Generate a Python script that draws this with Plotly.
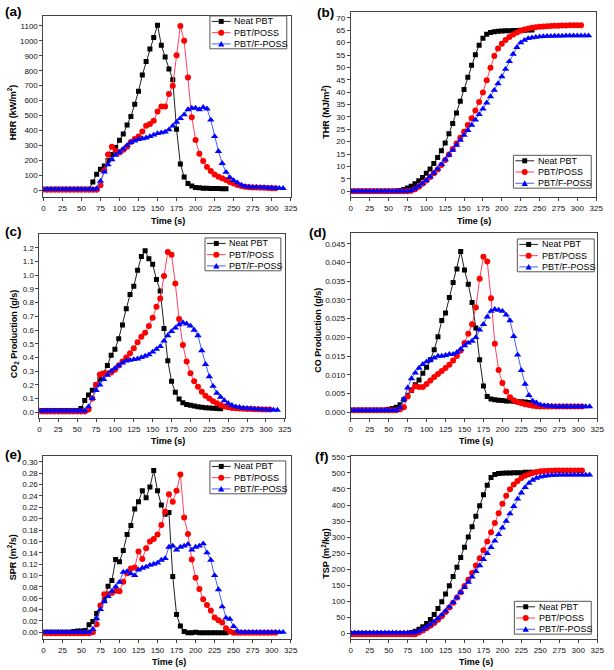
import plotly.graph_objects as go

W, H = 614, 670

# ---------------- data (time in s, sampled every 5 s) ----------------
T_NEAT = list(range(0, 245, 5))    # 0..240
T_POSS = list(range(0, 310, 5))    # 0..305
T_FPOSS = list(range(0, 320, 5))   # 0..315

SERIES_NAMES = ["Neat PBT", "PBT/POSS", "PBT/F-POSS"]

HRR_NEAT = [5, 5, 5, 5, 5, 5, 5, 5, 5, 5, 5, 5, 5,
            55, 106, 139, 161, 199, 239, 285, 334, 376, 436, 493, 575, 662, 772, 861, 945,
            1022, 1104, 971, 892, 812, 739, 407, 175, 88, 44, 27, 18,
            15, 13, 12, 11, 10, 10, 9, 9]
HRR_POSS = [2, 2, 2, 2, 2, 2, 2, 2, 2, 2, 2, 2, 2, 2, 2,
            33, 133, 239, 290, 262, 252, 270, 290, 322, 342, 360, 392, 432, 443, 465, 527,
            560, 560, 644, 700, 903, 1100, 1000, 755, 489, 336, 243, 195, 155, 128, 104,
            90, 80, 68, 55, 45, 35, 28, 22, 20, 18, 17, 16, 15, 14, 13, 12]
HRR_FPOSS = [5, 5, 5, 5, 5, 5, 5, 5, 5, 5, 5, 5, 5, 5,
             10, 60, 122, 170, 205, 235, 255, 275, 300, 320, 330, 340, 345, 350, 360, 370,
             380, 385, 390, 405, 430, 455, 480, 505, 540, 550, 550, 540, 555, 545, 470, 360,
             260, 180, 120, 85, 65, 50, 35, 25, 22, 20, 19, 18, 17, 16, 15, 14, 13, 12]

THR_NEAT = [0, 0, 0, 0, 0, 0, 0, 0, 0, 0, 0, 0, 0,
            0.3, 0.7, 1.3, 2.0, 3.0, 4.2, 5.5, 7.2, 9.0, 11.2, 13.6, 16.3, 19.5, 23.2,
            27.3, 31.6, 36.3, 41.1, 46.0, 50.9, 55.1, 59.0, 61.8, 63.4, 64.1, 64.4, 64.6, 64.7,
            64.8, 64.8, 64.9, 64.9, 65.0, 65.0, 65.1, 65.1]
THR_POSS = [0, 0, 0, 0, 0, 0, 0, 0, 0, 0, 0, 0, 0, 0, 0, 0,
            0.2, 0.8, 1.8, 3.0, 4.3, 5.7, 7.2, 8.8, 10.6, 12.6, 14.8, 17.0, 19.3, 21.6, 24.0,
            26.7, 29.5, 32.6, 36.0, 39.9, 44.8, 49.9, 54.6, 57.6, 59.6, 61.1, 62.3, 63.3, 64.1,
            64.8, 65.3, 65.7, 66.0, 66.2, 66.4, 66.5, 66.6, 66.7, 66.8, 66.8, 66.9, 66.9, 67.0,
            67.0, 67.0, 67.0]
THR_FPOSS = [0, 0, 0, 0, 0, 0, 0, 0, 0, 0, 0, 0, 0, 0, 0, 0,
             0.3, 1.0, 2.0, 3.1, 4.4, 5.8, 7.3, 9.0, 10.8, 12.7, 14.6, 16.6, 18.6, 20.6, 22.6,
             24.6, 26.7, 28.8, 31.0, 33.3, 35.7, 38.2, 40.8, 43.5, 46.3, 49.3, 52.4, 55.4, 58.1,
             60.0, 61.0, 61.7, 62.0, 62.2, 62.4, 62.5, 62.6, 62.6, 62.7, 62.7, 62.7, 62.8, 62.8,
             62.8, 62.8, 62.8, 62.8, 62.8]

CO2_NEAT = [0.01, 0.01, 0.01, 0.01, 0.01, 0.01, 0.01, 0.01, 0.01, 0.01, 0.01,
            0.027, 0.085, 0.126, 0.16, 0.2, 0.24, 0.285, 0.34, 0.416, 0.46,
            0.537, 0.636, 0.755, 0.859, 0.92, 1.036, 1.137, 1.18, 1.12, 1.08,
            0.97, 0.886, 0.612, 0.375, 0.225, 0.145, 0.097, 0.068, 0.056, 0.05,
            0.045, 0.04, 0.035, 0.032, 0.03, 0.028, 0.027, 0.025]
CO2_POSS = [0.005, 0.005, 0.005, 0.005, 0.005, 0.005, 0.005, 0.005, 0.005, 0.005, 0.005, 0.005, 0.005,
            0.02, 0.1, 0.2, 0.275, 0.28, 0.285, 0.29, 0.31, 0.34, 0.37,
            0.4, 0.43, 0.467, 0.51, 0.55, 0.58, 0.63, 0.69, 0.77, 0.83,
            0.994, 1.17, 1.15, 0.94, 0.68, 0.49, 0.37, 0.285, 0.225, 0.185,
            0.15, 0.12, 0.1, 0.08, 0.065, 0.052, 0.042, 0.035, 0.03, 0.028,
            0.026, 0.025, 0.024, 0.023, 0.022, 0.021, 0.02, 0.02, 0.02]
CO2_FPOSS = [0.01, 0.01, 0.01, 0.01, 0.01, 0.01, 0.01, 0.01, 0.01, 0.01, 0.01, 0.01, 0.01,
             0.04, 0.1, 0.16, 0.2, 0.24, 0.27, 0.3, 0.32, 0.34, 0.36,
             0.375, 0.38, 0.385, 0.39, 0.4, 0.41, 0.42, 0.44, 0.46, 0.48,
             0.52, 0.56, 0.59, 0.615, 0.64, 0.655, 0.645, 0.63, 0.6, 0.56,
             0.45, 0.35, 0.26, 0.19, 0.14, 0.11, 0.085, 0.065, 0.05, 0.04,
             0.035, 0.03, 0.028, 0.026, 0.024, 0.022, 0.02, 0.018, 0.017, 0.016, 0.015]

CO_NEAT = [0.0005, 0.0005, 0.0005, 0.0005, 0.0005, 0.0005, 0.0005, 0.0005, 0.0005, 0.0005,
           0.0008, 0.001, 0.0013, 0.002, 0.0033, 0.0045, 0.0058, 0.0073, 0.0086, 0.0104,
           0.012, 0.014, 0.0167, 0.0202, 0.0245, 0.0265, 0.0307, 0.0347, 0.0383, 0.043,
           0.038, 0.0342, 0.0293, 0.0225, 0.014, 0.007, 0.0042, 0.0035, 0.0033, 0.0032,
           0.0031, 0.003, 0.003, 0.0029, 0.0028, 0.0028, 0.0027, 0.0026, 0.0025]
CO_POSS = [0.0005, 0.0005, 0.0005, 0.0005, 0.0005, 0.0005, 0.0005, 0.0005, 0.0005, 0.0005, 0.0005, 0.0005, 0.0005,
           0.0008, 0.0013, 0.0042, 0.0059, 0.0069, 0.0067, 0.0067, 0.0075, 0.0085, 0.0094,
           0.0102, 0.011, 0.0118, 0.0127, 0.0138, 0.015, 0.0165, 0.0185, 0.021, 0.0235,
           0.028, 0.0357, 0.0416, 0.0403, 0.0305, 0.0183, 0.0113, 0.0078, 0.0055, 0.004,
           0.0032, 0.0027, 0.0024, 0.0021, 0.0019, 0.0017, 0.0016, 0.0015,
           0.0015, 0.0015, 0.0015, 0.0015, 0.0015, 0.0015, 0.0015, 0.0015, 0.0015, 0.0015, 0.0015]
CO_FPOSS = [0.0005, 0.0005, 0.0005, 0.0005, 0.0005, 0.0005, 0.0005, 0.0005, 0.0005, 0.0005, 0.0005, 0.0005, 0.0005,
            0.0012, 0.0035, 0.0065, 0.009, 0.0105, 0.0118, 0.0128, 0.0135, 0.014, 0.0145,
            0.015, 0.015, 0.0152, 0.0155, 0.0155, 0.016, 0.0168, 0.0178, 0.0185, 0.019,
            0.02, 0.022, 0.0235, 0.0255, 0.027, 0.0275, 0.0273, 0.027, 0.026, 0.0245,
            0.0203, 0.0153, 0.0112, 0.0075, 0.0045, 0.003, 0.0025, 0.002, 0.0018, 0.0017,
            0.0016, 0.0015, 0.0015, 0.0015, 0.0015, 0.0015, 0.0015, 0.0015, 0.0015, 0.0015, 0.0015]

SPR_NEAT = [0.0, 0.0, 0.0, 0.0, 0.0, 0.0, 0.0, 0.0,
            0.001, 0.002, 0.002, 0.003, 0.013, 0.019, 0.033, 0.047, 0.057, 0.081,
            0.091, 0.128, 0.124, 0.144, 0.172, 0.188, 0.217, 0.23, 0.249, 0.237,
            0.256, 0.285, 0.249, 0.224, 0.208, 0.211, 0.098, 0.031, 0.011, 0.001,
            -0.001, -0.001, 0.0, -0.001, -0.001, -0.001, -0.001, -0.001, -0.001, -0.001, -0.001]
SPR_POSS = [-0.002, -0.002, -0.002, -0.002, -0.002, -0.002, -0.002, -0.002, -0.002, -0.002, -0.002, -0.002, -0.002,
            0.0, 0.014, 0.047, 0.067, 0.067, 0.069, 0.073, 0.072, 0.089, 0.104,
            0.112, 0.114, 0.142, 0.129, 0.148, 0.16, 0.164, 0.172, 0.189, 0.212,
            0.243, 0.23, 0.249, 0.278, 0.202, 0.173, 0.128, 0.096, 0.076, 0.058,
            0.048, 0.038, 0.026, 0.021, 0.017, 0.007, 0.001, -0.001,
            -0.001, -0.001, -0.001, -0.001, -0.001, -0.001, -0.001, -0.001, -0.001, -0.001, -0.001]
SPR_FPOSS = [0.0, 0.0, 0.0, 0.0, 0.0, 0.0, 0.0, 0.0, 0.0, 0.0, 0.0, 0.0, 0.0,
             0.005, 0.024, 0.04, 0.054, 0.063, 0.072, 0.08, 0.088, 0.106, 0.107,
             0.103, 0.1, 0.11, 0.113, 0.115, 0.118, 0.12, 0.122, 0.127, 0.13,
             0.15, 0.152, 0.145, 0.15, 0.152, 0.155, 0.145, 0.15, 0.152, 0.156,
             0.14, 0.127, 0.1, 0.075, 0.045, 0.025, 0.023, 0.01, 0.002,
             0.0, 0.0, 0.0, 0.0, 0.0, 0.0, 0.0, 0.0, 0.0, 0.0, 0.0, 0.0]

TSP_NEAT = [-1, -1, -1, -1, -1, -1, -1, -1, -1, -1, -1, -1, -1, -1, -1, -1,
            2, 6, 12, 20, 30, 43, 58, 77, 98, 122, 148, 177, 206, 236, 268, 300, 332,
            365, 398, 432, 462, 486, 495, 498, 499, 500, 500, 501, 501, 501, 502, 502, 502]
TSP_POSS = [-3, -3, -3, -3, -3, -3, -3, -3, -3, -3, -3, -3, -3, -3, -3, -3, -3, -3,
            2, 8, 15, 23, 32, 42, 53, 66, 80, 95,
            111, 128, 147, 167, 188, 211, 234, 259, 286, 315,
            344, 374, 404, 429, 449, 464, 475, 484, 491, 496,
            500, 503, 505, 506, 507, 507, 508, 508, 508, 508,
            508, 508, 508, 508]
TSP_FPOSS = [1, 1, 1, 1, 1, 1, 1, 1, 1, 1, 1, 1, 1, 1, 1, 1, 1,
             2, 6, 12, 19, 27, 36, 46, 57, 69, 82,
             96, 111, 127, 143, 159, 176, 193, 211, 230, 249,
             268, 288, 308, 329, 350, 373, 396, 419, 438, 455,
             468, 478, 484, 488, 490, 492, 493, 493, 494, 494,
             494, 494, 494, 494, 494, 494, 494]

X_TICKS = [0, 25, 50, 75, 100, 125, 150, 175, 200, 225, 250, 275, 300, 325]
Y_TICKS_HRR = [0, 100, 200, 300, 400, 500, 600, 700, 800, 900, 1000, 1100]
Y_TICKS_THR = [0, 5, 10, 15, 20, 25, 30, 35, 40, 45, 50, 55, 60, 65, 70]
Y_TICKS_CO2 = [0.0, 0.1, 0.2, 0.3, 0.4, 0.5, 0.6, 0.7, 0.8, 0.9, 1.0, 1.1, 1.2]
Y_TICKS_CO = [0.0, 0.005, 0.01, 0.015, 0.02, 0.025, 0.03, 0.035, 0.04, 0.045]
Y_TICKS_SPR = [0.0, 0.02, 0.04, 0.06, 0.08, 0.1, 0.12, 0.14, 0.16, 0.18, 0.2, 0.22, 0.24, 0.26, 0.28, 0.3]
Y_TICKS_TSP = [0, 50, 100, 150, 200, 250, 300, 350, 400, 450, 500, 550]

# ---------------- styling ----------------
FONT = "Liberation Sans, Arial, sans-serif"
COLORS = ["#000000", "#FF0000", "#0000FF"]
LINE_COLORS = ["#202020", "#FF4060", "#4060FF"]
SYMBOLS = ["square", "circle", "triangle-up"]
SIZES = [5, 6, 6.5]
AXIS_COLOR = "#444444"


def fx(p):
    return p / W


def fy(p):
    return 1 - p / H


# panel layout in pixels: frame (left, top, right, bottom)
panels = [
    dict(label="(a)", lab_xy=(1, 9), frame=(42, 13, 293, 195), yr=[-47, 1167], tv=Y_TICKS_HRR, fmt="d",
         ytitle="HRR (kW/m<sup>2</sup>)", yt_xy=(10, 110), xt_xy=(168, 219),
         data=(HRR_NEAT, HRR_POSS, HRR_FPOSS), leg=(211, 13, 289, 46)),
    dict(label="(b)", lab_xy=(318, 10), frame=(354, 9, 603, 195), yr=[-2.41, 72.41], tv=Y_TICKS_THR, fmt="d",
         ytitle="THR (MJ/m<sup>2</sup>)", yt_xy=(328, 109), xt_xy=(479, 219),
         data=(THR_NEAT, THR_POSS, THR_FPOSS), leg=(519, 153, 598, 186)),
    dict(label="(c)", lab_xy=(1, 230), frame=(38, 232, 287, 417), yr=[-0.0436, 1.3018], tv=Y_TICKS_CO2, fmt=".1f",
         ytitle="CO<sub>2</sub> Production (g/s)", yt_xy=(13, 332), xt_xy=(168, 440),
         data=(CO2_NEAT, CO2_POSS, CO2_FPOSS), leg=(206, 236, 283, 269)),
    dict(label="(d)", lab_xy=(310, 231), frame=(354, 231, 604, 417), yr=[-0.0016, 0.04793], tv=Y_TICKS_CO, fmt=".3f",
         ytitle="CO Production (g/s)", yt_xy=(320, 329), xt_xy=(481, 440),
         data=(CO_NEAT, CO_POSS, CO_FPOSS), leg=(523, 237, 601, 270)),
    dict(label="(e)", lab_xy=(1, 454), frame=(42, 455, 293, 639), yr=[-0.01228, 0.31053], tv=Y_TICKS_SPR, fmt=".2f",
         ytitle="SPR (m<sup>2</sup>/s)", yt_xy=(10, 557), xt_xy=(169, 662),
         data=(SPR_NEAT, SPR_POSS, SPR_FPOSS), leg=(211, 460, 288, 493)),
    dict(label="(f)", lab_xy=(316, 456), frame=(354, 455, 604, 639), yr=[-18.6, 553.1], tv=Y_TICKS_TSP, fmt="d",
         ytitle="TSP (m<sup>2</sup>/kg)", yt_xy=(328, 553), xt_xy=(481, 662),
         data=(TSP_NEAT, TSP_POSS, TSP_FPOSS), leg=(520, 601, 598, 634)),
]

times = (T_NEAT, T_POSS, T_FPOSS)

fig = go.Figure()
shapes = []
annotations = []
layout_axes = {}

for i, p in enumerate(panels):
    n = i + 1
    xa = "x" if n == 1 else f"x{n}"
    ya = "y" if n == 1 else f"y{n}"
    xkey = "xaxis" if n == 1 else f"xaxis{n}"
    ykey = "yaxis" if n == 1 else f"yaxis{n}"
    l, t, r, b = p["frame"]

    for k in range(3):
        fig.add_trace(go.Scatter(
            x=times[k], y=p["data"][k], xaxis=xa, yaxis=ya,
            mode="lines+markers", name=SERIES_NAMES[k], showlegend=False,
            line=dict(color=LINE_COLORS[k], width=1),
            marker=dict(symbol=SYMBOLS[k], size=SIZES[k], color=COLORS[k], line=dict(width=0)),
        ))

    common = dict(showline=True, linecolor=AXIS_COLOR, linewidth=1, mirror=True,
                  showgrid=False, zeroline=False, ticks="outside", ticklen=3,
                  tickcolor=AXIS_COLOR, tickwidth=1,
                  tickfont=dict(family=FONT, size=8, color="#111"))
    layout_axes[xkey] = dict(common, domain=[fx(l), fx(r)], range=[0, 325], tickvals=X_TICKS,
                             anchor=ya)
    layout_axes[ykey] = dict(common, domain=[fy(b), fy(t)], range=p["yr"], tickvals=p["tv"],
                             tickformat=p["fmt"], anchor=xa)

    # panel label
    annotations.append(dict(text=f"<b>{p['label']}</b>", x=fx(p["lab_xy"][0]), y=fy(p["lab_xy"][1]),
                            xref="paper", yref="paper", xanchor="left", yanchor="middle",
                            showarrow=False, font=dict(family=FONT, size=13.5, color="#000")))
    # y title
    annotations.append(dict(text=f"<b>{p['ytitle']}</b>", x=fx(p["yt_xy"][0]), y=fy(p["yt_xy"][1]),
                            xref="paper", yref="paper", xanchor="center", yanchor="middle",
                            textangle=-90, showarrow=False,
                            font=dict(family=FONT, size=9, color="#000")))
    # x title
    annotations.append(dict(text="<b>Time (s)</b>", x=fx(p["xt_xy"][0]), y=fy(p["xt_xy"][1]),
                            xref="paper", yref="paper", xanchor="center", yanchor="middle",
                            showarrow=False, font=dict(family=FONT, size=9, color="#000")))

    # legend box
    lx0, ly0, lx1, ly1 = p["leg"]
    shapes.append(dict(type="rect", xref="paper", yref="paper",
                       x0=fx(lx0), x1=fx(lx1), y0=fy(ly1), y1=fy(ly0),
                       line=dict(color="#555", width=1), fillcolor="white", layer="above"))
    for k in range(3):
        cy = ly0 + 5.5 + 11.3 * k
        shapes.append(dict(type="line", xref="paper", yref="paper",
                           x0=fx(lx0 + 2), x1=fx(lx0 + 21), y0=fy(cy), y1=fy(cy),
                           line=dict(color=LINE_COLORS[k], width=1), layer="above"))
        mx = lx0 + 11.5
        if k == 0:
            shapes.append(dict(type="rect", xref="paper", yref="paper",
                               x0=fx(mx - 2.5), x1=fx(mx + 2.5), y0=fy(cy + 2.5), y1=fy(cy - 2.5),
                               line=dict(width=0), fillcolor=COLORS[0], layer="above"))
        elif k == 1:
            shapes.append(dict(type="circle", xref="paper", yref="paper",
                               x0=fx(mx - 3), x1=fx(mx + 3), y0=fy(cy + 3), y1=fy(cy - 3),
                               line=dict(width=0), fillcolor=COLORS[1], layer="above"))
        else:
            path = (f"M {fx(mx - 3.2)},{fy(cy + 2.6)} L {fx(mx + 3.2)},{fy(cy + 2.6)} "
                    f"L {fx(mx)},{fy(cy - 3.0)} Z")
            shapes.append(dict(type="path", xref="paper", yref="paper", path=path,
                               line=dict(width=0), fillcolor=COLORS[2], layer="above"))
        annotations.append(dict(text=SERIES_NAMES[k], x=fx(lx0 + 22.5), y=fy(cy),
                                xref="paper", yref="paper", xanchor="left", yanchor="middle",
                                showarrow=False, font=dict(family=FONT, size=9, color="#000")))

fig.update_layout(
    width=W, height=H,
    margin=dict(l=0, r=0, t=0, b=0),
    paper_bgcolor="white", plot_bgcolor="white",
    showlegend=False,
    shapes=shapes, annotations=annotations,
    **layout_axes,
)

# remove the browser's default 8px body margin so the figure fills the window exactly
fig.write_html("out.html", config={"displayModeBar": False, "staticPlot": True},
               post_script="document.body.style.margin='0';document.body.style.overflow='hidden';")
